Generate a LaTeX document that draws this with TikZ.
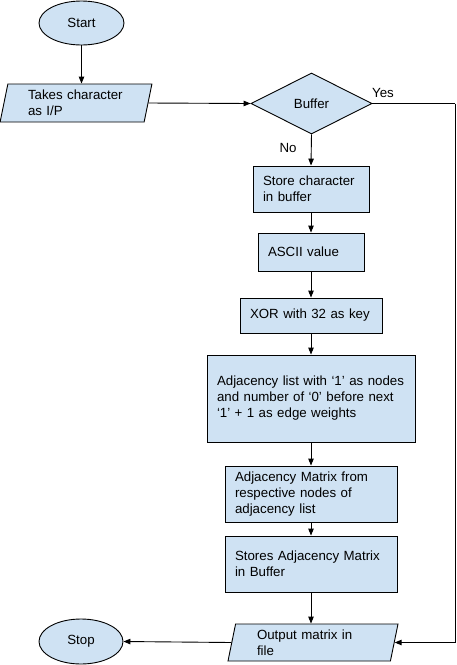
\documentclass[tikz,border=0pt]{standalone}
\usepackage{fontspec}
\setmainfont{Liberation Sans}
\usetikzlibrary{shapes.geometric,arrows.meta}
\definecolor{boxfill}{HTML}{CFE2F3}
\tikzset{
  base/.style={draw=black, fill=boxfill, line width=0.9pt, font=\fontsize{13.3}{16}\selectfont, inner sep=0pt},
  term/.style={base, ellipse, minimum width=#1},
  proc/.style={base, rectangle, minimum width=#1, text width=#1-20pt, align=left},
  io/.style={base, trapezium, trapezium left angle=78, trapezium right angle=102, trapezium stretches=true, align=left},
  dec/.style={base, diamond, minimum width=121pt, minimum height=61pt},
  lbl/.style={font=\fontsize{13.3}{16}\selectfont, inner sep=0pt},
  flow/.style={line width=0.9pt, -{Triangle[length=7pt,width=5.5pt]}},
  plain/.style={line width=0.9pt}
}
\begin{document}
\begin{tikzpicture}[x=1pt,y=1pt]
\useasboundingbox (0,0) rectangle (456,-665);
\node[term=85pt, minimum height=44pt] (start) at (81.5,-23) {Start};
\node[io, minimum width=152pt, minimum height=38pt, text width=96pt] (takes) at (76,-103) {Takes character\\as I/P};
\node[dec] (buffer) at (311.5,-103.5) {Buffer};
\node[proc=116pt, minimum height=46pt] (store) at (311,-189) {Store character\\in buffer};
\node[proc=106pt, minimum height=38pt] (ascii) at (311,-252) {ASCII value};
\node[proc=142pt, minimum height=35pt] (xor) at (311,-315.5) {XOR with 32 as key};
\node[proc=208pt, minimum height=87pt] (adjl) at (311,-398.5) {Adjacency list with ‘1’ as nodes\\and number of ‘0’ before next\\‘1’ + 1 as edge weights};
\node[proc=172pt, minimum height=56pt] (adjm) at (311,-494) {Adjacency Matrix from\\respective nodes of\\adjacency list};
\node[proc=172pt, minimum height=56pt] (stores) at (311,-564) {Stores Adjacency Matrix\\in Buffer};
\node[io, minimum width=170pt, minimum height=37pt, text width=112pt] (output) at (313,-642.5) {Output matrix in\\file};
\node[term=84pt, minimum height=45pt] (stop) at (81,-641.5) {Stop};
\node[lbl] (yes) at (383,-93) {Yes};
\node[lbl] (no) at (288,-148) {No};
\coordinate (corner) at (455,-103.5);

\draw[flow] (start.south) -- (start.south |- takes.north);
\draw[flow] (takes.east) -- (buffer.west);
\draw[flow] (buffer.south) -- (store.north);
\draw[plain] (buffer.east) -- (corner);
\draw[flow] (corner) |- (output.east);
\draw[flow] (store.south) -- (ascii.north);
\draw[flow] (ascii.south) -- (xor.north);
\draw[flow] (xor.south) -- (adjl.north);
\draw[flow] (adjl.south) -- (adjm.north);
\draw[flow] (adjm.south) -- (stores.north);
\draw[flow] (stores.south) -- (stores.south |- output.north);
\draw[flow] (output.west) -- (stop.east);
\end{tikzpicture}
\end{document}
